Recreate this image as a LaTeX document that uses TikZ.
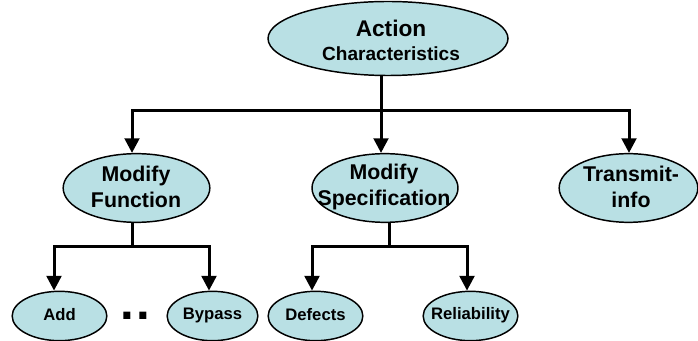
\documentclass[tikz,border=0pt]{standalone}
\usepackage{fontspec}
\setmainfont{Liberation Sans}
\usetikzlibrary{shapes.geometric,arrows.meta}
\definecolor{cellfill}{RGB}{185,224,228}
\tikzset{
  oval/.style={ellipse, draw=black, line width=1.1pt, fill=cellfill, inner sep=0pt},
  lvlone/.style={oval, minimum width=180pt, minimum height=55.5pt},
  lvltwo/.style={oval, minimum width=110pt, minimum height=51.5pt},
  lvlthree/.style={oval, minimum width=71pt, minimum height=37pt},
  txtone/.style={inner sep=0pt, align=center, font=\bfseries\fontsize{17}{18}\selectfont},
  txttwo/.style={inner sep=0pt, align=center, font=\bfseries\fontsize{16}{19.5}\selectfont},
  txtthree/.style={inner sep=0pt, align=center, font=\bfseries\fontsize{12.5}{15}\selectfont},
  conn/.style={line width=2.25pt, line join=miter},
  arr/.style={conn, -{Triangle[length=11pt,width=11pt]}}
}
\begin{document}
\begin{tikzpicture}[x=0.75pt,y=-0.75pt]
\useasboundingbox (0,0) rectangle (698,341);
% ovals
\node[lvlone] (top) at (388,38.5) {};
\node[lvltwo] (mf) at (136.5,188) {};
\node[lvltwo, minimum width=109.5pt] (ms) at (385,188) {};
\node[lvltwo, minimum width=104pt] (ti) at (628.5,188) {};
\node[lvlthree] (add) at (59.5,316) {};
\node[lvlthree, minimum width=68pt] (bypass) at (212.5,316) {};
\node[lvlthree] (defects) at (315.5,316) {};
\node[lvlthree] (rel) at (470.5,316) {};
% texts
\node[txtone] (top-t) at (391,40) {Action\\{\fontsize{14.3}{18}\selectfont Characteristics}};
\node[txttwo] (mf-t) at (136,186.5) {Modify\\Function};
\node[txttwo] (ms-t) at (384,186.5) {Modify\\Specification};
\node[txttwo] (ti-t) at (631,186.5) {Transmit-\\info};
\node[txtthree] (add-t) at (59.5,315) {Add};
\node[txtthree] (bypass-t) at (212.5,315) {Bypass};
\node[txtthree] (defects-t) at (315.5,315) {Defects};
\node[txtthree] (rel-t) at (470.5,315) {Reliability};
\node[inner sep=0pt, font=\bfseries\fontsize{37}{37}\selectfont] (dots) at (135.5,315.5) {.\kern1.5pt.};
% level 1 connectors
\coordinate (b1) at (381,111);
\coordinate (a1) at (132,111);
\coordinate (a2) at (381,111);
\coordinate (a3) at (629,111);
\draw[conn] (b1 |- top.south) -- (b1);
\draw[arr] (b1) -- (a1) -- (a1 |- mf.north);
\draw[arr] (a2) -- (a2 |- ms.north);
\draw[arr] (b1) -- (a3) -- (a3 |- ti.north);
% level 2 connectors: Modify Function
\coordinate (b2) at (132,247);
\coordinate (c1) at (54,247);
\coordinate (c2) at (209,247);
\draw[conn] (b2 |- mf.south) -- (b2);
\draw[arr] (b2) -- (c1) -- (c1 |- add.north);
\draw[arr] (b2) -- (c2) -- (c2 |- bypass.north);
% level 2 connectors: Modify Specification
\coordinate (b3) at (389,247);
\coordinate (d1) at (312,247);
\coordinate (d2) at (467,247);
\draw[conn] (b3 |- ms.south) -- (b3);
\draw[arr] (b3) -- (d1) -- (d1 |- defects.north);
\draw[arr] (b3) -- (d2) -- (d2 |- rel.north);
\end{tikzpicture}
\end{document}
